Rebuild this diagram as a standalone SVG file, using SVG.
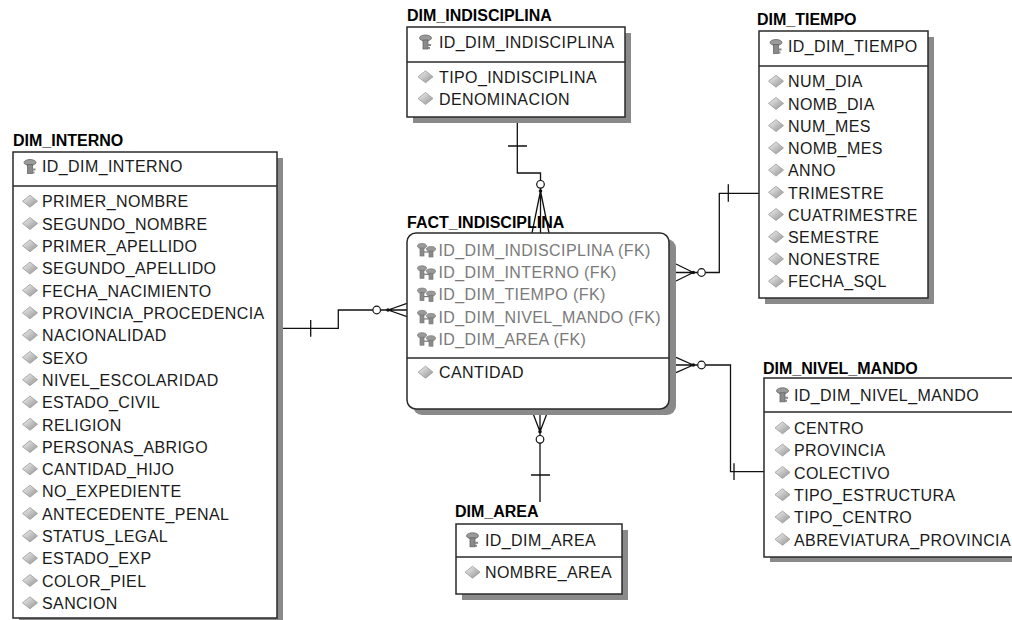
<svg xmlns="http://www.w3.org/2000/svg" width="1012" height="620" viewBox="0 0 1012 620">
<style>
.t{font-family:"Liberation Sans",Arial,sans-serif;font-size:16px;font-weight:bold;fill:#000}
.a{font-family:"Liberation Sans",Arial,sans-serif;font-size:16px;letter-spacing:0.4px;fill:#1a1a1a}
.f{font-family:"Liberation Sans",Arial,sans-serif;font-size:16px;letter-spacing:0.4px;fill:#7a7a7a}
.box{fill:#fff;stroke:#2a2a2a;stroke-width:1.5}
.sh{fill:#8a8a8a}
.div{stroke:#2a2a2a;stroke-width:1.5}
.cn{fill:none;stroke:#111;stroke-width:1.3}
.ci{fill:#fff;stroke:#111;stroke-width:1.2}
</style>
<defs>
<linearGradient id="dg" x1="0" y1="0" x2="1" y2="1">
<stop offset="0" stop-color="#f4f4f4"/>
<stop offset="1" stop-color="#909090"/>
</linearGradient>
<g id="dia"><polygon points="0,-6 7.5,0 0,6 -7.5,0" fill="url(#dg)" stroke="#9a9a9a" stroke-width="0.8"/></g>
<g id="pk">
<ellipse cx="0" cy="-4" rx="6" ry="3" fill="#9a9a9a" stroke="#666" stroke-width="0.8"/>
<rect x="-2.5" y="-2" width="5" height="9" fill="#8a8a8a" stroke="#666" stroke-width="0.8"/>
<rect x="2.5" y="2" width="3" height="2" fill="#888"/>
<rect x="2.5" y="5" width="2" height="2" fill="#888"/>
</g>
<g id="fk">
<ellipse cx="-5" cy="-4" rx="4.5" ry="2.5" fill="#9a9a9a" stroke="#777" stroke-width="0.7"/>
<rect x="-7" y="-2" width="4" height="8" fill="#8a8a8a" stroke="#777" stroke-width="0.7"/>
<ellipse cx="4" cy="-1" rx="4.5" ry="2.5" fill="#9a9a9a" stroke="#777" stroke-width="0.7"/>
<rect x="2" y="1" width="4" height="6" fill="#8a8a8a" stroke="#777" stroke-width="0.7"/>
<path d="M-3,2 H2" stroke="#777" stroke-width="1.2"/>
</g>
</defs>

<g id="connectors">
<path class="cn" d="M517.3,117 V173 H540.5 V180.5 M508,146 H527 M540.5,188.1 V191 M540.5,191 L532,233 M540.5,191 V233 M540.5,191 L549,233"/>
<circle class="ci" cx="540.5" cy="184.3" r="3.8"/>
<circle cx="540.5" cy="191" r="1.8" fill="#111"/>

<path class="cn" d="M277,328.3 H338.3 V310 H372.9 M310.7,320 V336.7 M380.5,310 H388 M388,310 L407,303.3 M388,310 H407 M388,310 L407,316.7"/>
<circle class="ci" cx="376.7" cy="310" r="3.8"/>
<circle cx="388" cy="310" r="1.8" fill="#111"/>

<path class="cn" d="M759,193.3 H719.3 V272.5 H705.3 M728.3,184.3 V201.7 M697.7,272.5 H693.3 M693.3,272.5 L676,264 M693.3,272.5 H676 M693.3,272.5 L676,281"/>
<circle class="ci" cx="701.5" cy="272.5" r="3.8"/>
<circle cx="693.3" cy="272.5" r="1.8" fill="#111"/>

<path class="cn" d="M705.3,365 H730.5 V471.7 H764 M734,463.3 V480 M697.7,365 H693.3 M693.3,365 L676,357.3 M693.3,365 H676 M693.3,365 L676,372.7"/>
<circle class="ci" cx="701.5" cy="365" r="3.8"/>
<circle cx="693.3" cy="365" r="1.8" fill="#111"/>

<path class="cn" d="M531.7,410 L540,431.7 M540,410 V431.7 M548.3,410 L540,431.7 M540,431.7 V435.5 M540,443.1 V502 M531,475 H550"/>
<circle class="ci" cx="540" cy="439.3" r="3.8"/>
<circle cx="540" cy="431.7" r="1.8" fill="#111"/>
</g>

<g id="DIM_INDISCIPLINA">
<text class="t" x="407" y="21">DIM_INDISCIPLINA</text>
<rect class="sh" x="413" y="33" width="218" height="90"/>
<rect class="box" x="407" y="27" width="218" height="90"/>
<line class="div" x1="407" y1="62" x2="625" y2="62"/>
<use href="#pk" x="425.5" y="42"/>
<text class="a" x="439" y="48">ID_DIM_INDISCIPLINA</text>
<use href="#dia" x="425.5" y="76.8"/>
<text class="a" x="439" y="83">TIPO_INDISCIPLINA</text>
<use href="#dia" x="425.5" y="98.5"/>
<text class="a" x="439" y="104.7">DENOMINACION</text>
</g>

<g id="DIM_TIEMPO">
<text class="t" x="757" y="25">DIM_TIEMPO</text>
<rect class="sh" x="765" y="37" width="169" height="267"/>
<rect class="box" x="759" y="31" width="169" height="267"/>
<line class="div" x1="759" y1="66" x2="928" y2="66"/>
<use href="#pk" x="776" y="46.5"/>
<text class="a" x="788" y="52.4">ID_DIM_TIEMPO</text>
<use href="#dia" x="776" y="81.2"/><text class="a" x="788" y="87.4">NUM_DIA</text>
<use href="#dia" x="776" y="103.4"/><text class="a" x="788" y="109.6">NOMB_DIA</text>
<use href="#dia" x="776" y="125.6"/><text class="a" x="788" y="131.8">NUM_MES</text>
<use href="#dia" x="776" y="147.9"/><text class="a" x="788" y="154.1">NOMB_MES</text>
<use href="#dia" x="776" y="170.1"/><text class="a" x="788" y="176.3">ANNO</text>
<use href="#dia" x="776" y="192.3"/><text class="a" x="788" y="198.5">TRIMESTRE</text>
<use href="#dia" x="776" y="214.5"/><text class="a" x="788" y="220.7">CUATRIMESTRE</text>
<use href="#dia" x="776" y="236.7"/><text class="a" x="788" y="242.9">SEMESTRE</text>
<use href="#dia" x="776" y="258.9"/><text class="a" x="788" y="265.1">NONESTRE</text>
<use href="#dia" x="776" y="281.2"/><text class="a" x="788" y="287.4">FECHA_SQL</text>
</g>

<g id="DIM_INTERNO">
<text class="t" x="13" y="146">DIM_INTERNO</text>
<rect class="sh" x="19" y="158" width="264" height="470"/>
<rect class="box" x="13" y="152" width="264" height="466"/>
<line class="div" x1="13" y1="186" x2="277" y2="186"/>
<use href="#pk" x="30" y="166.5"/>
<text class="a" x="42" y="172.4">ID_DIM_INTERNO</text>
<use href="#dia" x="30" y="201.2"/><text class="a" x="42" y="207.4">PRIMER_NOMBRE</text>
<use href="#dia" x="30" y="223.5"/><text class="a" x="42" y="229.7">SEGUNDO_NOMBRE</text>
<use href="#dia" x="30" y="245.8"/><text class="a" x="42" y="252">PRIMER_APELLIDO</text>
<use href="#dia" x="30" y="268.1"/><text class="a" x="42" y="274.3">SEGUNDO_APELLIDO</text>
<use href="#dia" x="30" y="290.4"/><text class="a" x="42" y="296.6">FECHA_NACIMIENTO</text>
<use href="#dia" x="30" y="312.8"/><text class="a" x="42" y="319">PROVINCIA_PROCEDENCIA</text>
<use href="#dia" x="30" y="335.1"/><text class="a" x="42" y="341.3">NACIONALIDAD</text>
<use href="#dia" x="30" y="357.4"/><text class="a" x="42" y="363.6">SEXO</text>
<use href="#dia" x="30" y="379.7"/><text class="a" x="42" y="385.9">NIVEL_ESCOLARIDAD</text>
<use href="#dia" x="30" y="402"/><text class="a" x="42" y="408.2">ESTADO_CIVIL</text>
<use href="#dia" x="30" y="424.3"/><text class="a" x="42" y="430.5">RELIGION</text>
<use href="#dia" x="30" y="446.6"/><text class="a" x="42" y="452.8">PERSONAS_ABRIGO</text>
<use href="#dia" x="30" y="468.9"/><text class="a" x="42" y="475.1">CANTIDAD_HIJO</text>
<use href="#dia" x="30" y="491.2"/><text class="a" x="42" y="497.4">NO_EXPEDIENTE</text>
<use href="#dia" x="30" y="513.5"/><text class="a" x="42" y="519.7">ANTECEDENTE_PENAL</text>
<use href="#dia" x="30" y="535.9"/><text class="a" x="42" y="542.1">STATUS_LEGAL</text>
<use href="#dia" x="30" y="558.2"/><text class="a" x="42" y="564.4">ESTADO_EXP</text>
<use href="#dia" x="30" y="580.5"/><text class="a" x="42" y="586.7">COLOR_PIEL</text>
<use href="#dia" x="30" y="602.8"/><text class="a" x="42" y="609">SANCION</text>
</g>

<g id="FACT_INDISCIPLINA">
<text class="t" x="407" y="228">FACT_INDISCIPLINA</text>
<rect class="sh" x="413" y="239" width="263" height="176" rx="9"/>
<rect class="box" x="407" y="233" width="262" height="176" rx="9"/>
<line class="div" x1="407" y1="358" x2="669" y2="358"/>
<use href="#fk" x="427" y="250"/><text class="f" x="438.5" y="255.7">ID_DIM_INDISCIPLINA (FK)</text>
<use href="#fk" x="427" y="272.3"/><text class="f" x="438.5" y="278">ID_DIM_INTERNO (FK)</text>
<use href="#fk" x="427" y="294.6"/><text class="f" x="438.5" y="300.3">ID_DIM_TIEMPO (FK)</text>
<use href="#fk" x="427" y="316.9"/><text class="f" x="438.5" y="322.6">ID_DIM_NIVEL_MANDO (FK)</text>
<use href="#fk" x="427" y="339.2"/><text class="f" x="438.5" y="344.9">ID_DIM_AREA (FK)</text>
<use href="#dia" x="425.5" y="372.2"/><text class="a" x="439" y="378.4">CANTIDAD</text>
</g>

<g id="DIM_NIVEL_MANDO">
<text class="t" x="763" y="373.5">DIM_NIVEL_MANDO</text>
<rect class="sh" x="770" y="384" width="260" height="178"/>
<rect class="box" x="764" y="378" width="260" height="179"/>
<line class="div" x1="764" y1="412" x2="1024" y2="412"/>
<use href="#pk" x="782.5" y="394.8"/>
<text class="a" x="794" y="400.7">ID_DIM_NIVEL_MANDO</text>
<use href="#dia" x="782.5" y="427.8"/><text class="a" x="794" y="434">CENTRO</text>
<use href="#dia" x="782.5" y="450.1"/><text class="a" x="794" y="456.3">PROVINCIA</text>
<use href="#dia" x="782.5" y="472.4"/><text class="a" x="794" y="478.6">COLECTIVO</text>
<use href="#dia" x="782.5" y="494.7"/><text class="a" x="794" y="500.9">TIPO_ESTRUCTURA</text>
<use href="#dia" x="782.5" y="517"/><text class="a" x="794" y="523.2">TIPO_CENTRO</text>
<use href="#dia" x="782.5" y="539.3"/><text class="a" x="794" y="545.5">ABREVIATURA_PROVINCIA</text>
</g>

<g id="DIM_AREA">
<text class="t" x="455" y="517">DIM_AREA</text>
<rect class="sh" x="462" y="530" width="166" height="70"/>
<rect class="box" x="456" y="524" width="166" height="70"/>
<line class="div" x1="456" y1="557" x2="622" y2="557"/>
<use href="#pk" x="472.5" y="539.8"/>
<text class="a" x="485" y="545.7">ID_DIM_AREA</text>
<use href="#dia" x="472.5" y="572.2"/><text class="a" x="485" y="578.4">NOMBRE_AREA</text>
</g>
</svg>
